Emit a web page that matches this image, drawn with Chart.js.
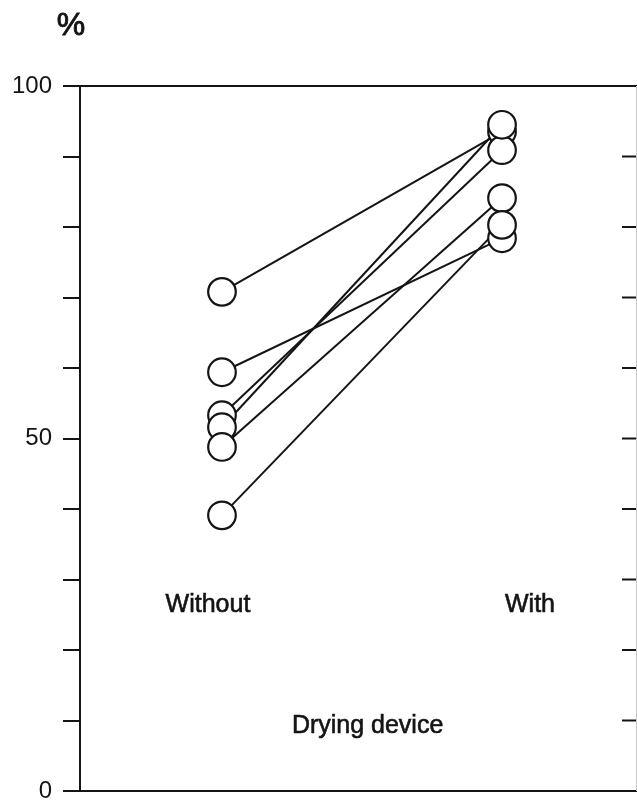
<!DOCTYPE html>
<html>
<head>
<meta charset="utf-8">
<script src="https://cdn.jsdelivr.net/npm/chart.js@4/dist/chart.umd.min.js"></script>
<style>
html,body{margin:0;padding:0;background:#fff;}
#wrap{width:637px;height:805px;position:relative;}
</style>
</head>
<body>
<div id="wrap"><canvas id="c" width="637" height="805"></canvas></div>
<script>
const categories = ['Without', 'With'];
const withoutValues = [70.8, 59.4, 53.3, 51.6, 48.8, 39.1];
const withValues = [93.5, 78.4, 90.9, 94.5, 84.1, 80.3];
const yTickLabels = [0, 50, 100];
const yUnit = '%';
const xTitle = 'Drying device';

const INK = '#141414';
const FONT = '"Liberation Sans", Arial, Helvetica, sans-serif';

const lineSets = withoutValues.map((w, i) => ({
  data: [{x: 0, y: w}, {x: 1, y: withValues[i]}],
  borderColor: INK,
  borderWidth: 2,
  pointRadius: 0,
  showLine: true,
  fill: false,
  order: 2
}));
const pointSets = [withoutValues, withValues].map((vals, ci) => ({
  data: vals.map(v => ({x: ci, y: v})),
  showLine: false,
  pointRadius: 13.8,
  pointBorderWidth: 2.2,
  pointBorderColor: INK,
  pointBackgroundColor: '#fff',
  order: 1
}));

function boldText(ctx, txt, x, y) {
  ctx.fillText(txt, x, y);
  ctx.strokeText(txt, x, y);
}

const framePlugin = {
  id: 'frame',
  afterDraw(chart) {
    const ctx = chart.ctx;
    const a = chart.chartArea;
    const ys = chart.scales.y, xs = chart.scales.x;
    const tickLen = 17;
    ctx.save();
    ctx.strokeStyle = INK;
    ctx.lineWidth = 2;
    ctx.beginPath();
    ctx.moveTo(a.left - tickLen, a.top); ctx.lineTo(a.right, a.top);
    ctx.moveTo(a.left - tickLen, a.bottom); ctx.lineTo(a.right, a.bottom);
    ys.ticks.forEach(t => {
      const y = ys.getPixelForValue(t.value);
      if (t.value > ys.min && t.value < ys.max) {
        ctx.moveTo(a.right - 15, y); ctx.lineTo(a.right, y);
      }
    });
    ctx.stroke();
    ctx.lineWidth = 1;
    ctx.strokeStyle = '#c8c8c8';
    ctx.beginPath();
    ctx.moveTo(a.right - 0.5, a.top); ctx.lineTo(a.right - 0.5, a.bottom);
    ctx.stroke();
    ctx.fillStyle = INK;
    ctx.strokeStyle = INK;
    ctx.lineWidth = 0.6;
    ctx.textBaseline = 'middle';
    ctx.textAlign = 'center';
    ctx.font = '25px ' + FONT;
    boldText(ctx, categories[0], xs.getPixelForValue(-0.05), ys.getPixelForValue(26.3));
    boldText(ctx, categories[1], xs.getPixelForValue(1.1), ys.getPixelForValue(26.3));
    boldText(ctx, xTitle, xs.getPixelForValue(0.52), ys.getPixelForValue(9.2));
    ctx.font = '32px ' + FONT;
    ctx.lineWidth = 0.9;
    boldText(ctx, yUnit, 71, 26);
    ctx.restore();
  }
};

new Chart(document.getElementById('c'), {
  type: 'scatter',
  data: { datasets: [...pointSets, ...lineSets] },
  options: {
    responsive: false,
    animation: false,
    events: [],
    layout: { autoPadding: false, padding: { top: 86, bottom: 14, left: 0, right: 0 } },
    plugins: { legend: { display: false }, tooltip: { enabled: false } },
    scales: {
      x: {
        type: 'linear',
        display: false,
        min: -0.507,
        max: 1.482
      },
      y: {
        type: 'linear',
        min: 0,
        max: 100,
        afterFit(scale) { scale.width = 80; scale.paddingTop = 0; scale.paddingBottom = 0; },
        border: { display: true, color: INK, width: 2 },
        grid: { drawOnChartArea: false, drawTicks: true, tickLength: 17, color: INK, lineWidth: 2 },
        ticks: {
          stepSize: 10,
          padding: 11,
          color: INK,
          font: { family: FONT, size: 24 },
          callback: (v) => yTickLabels.includes(v) ? String(v) : ''
        }
      }
    }
  },
  plugins: [framePlugin]
});
</script>
</body>
</html>
